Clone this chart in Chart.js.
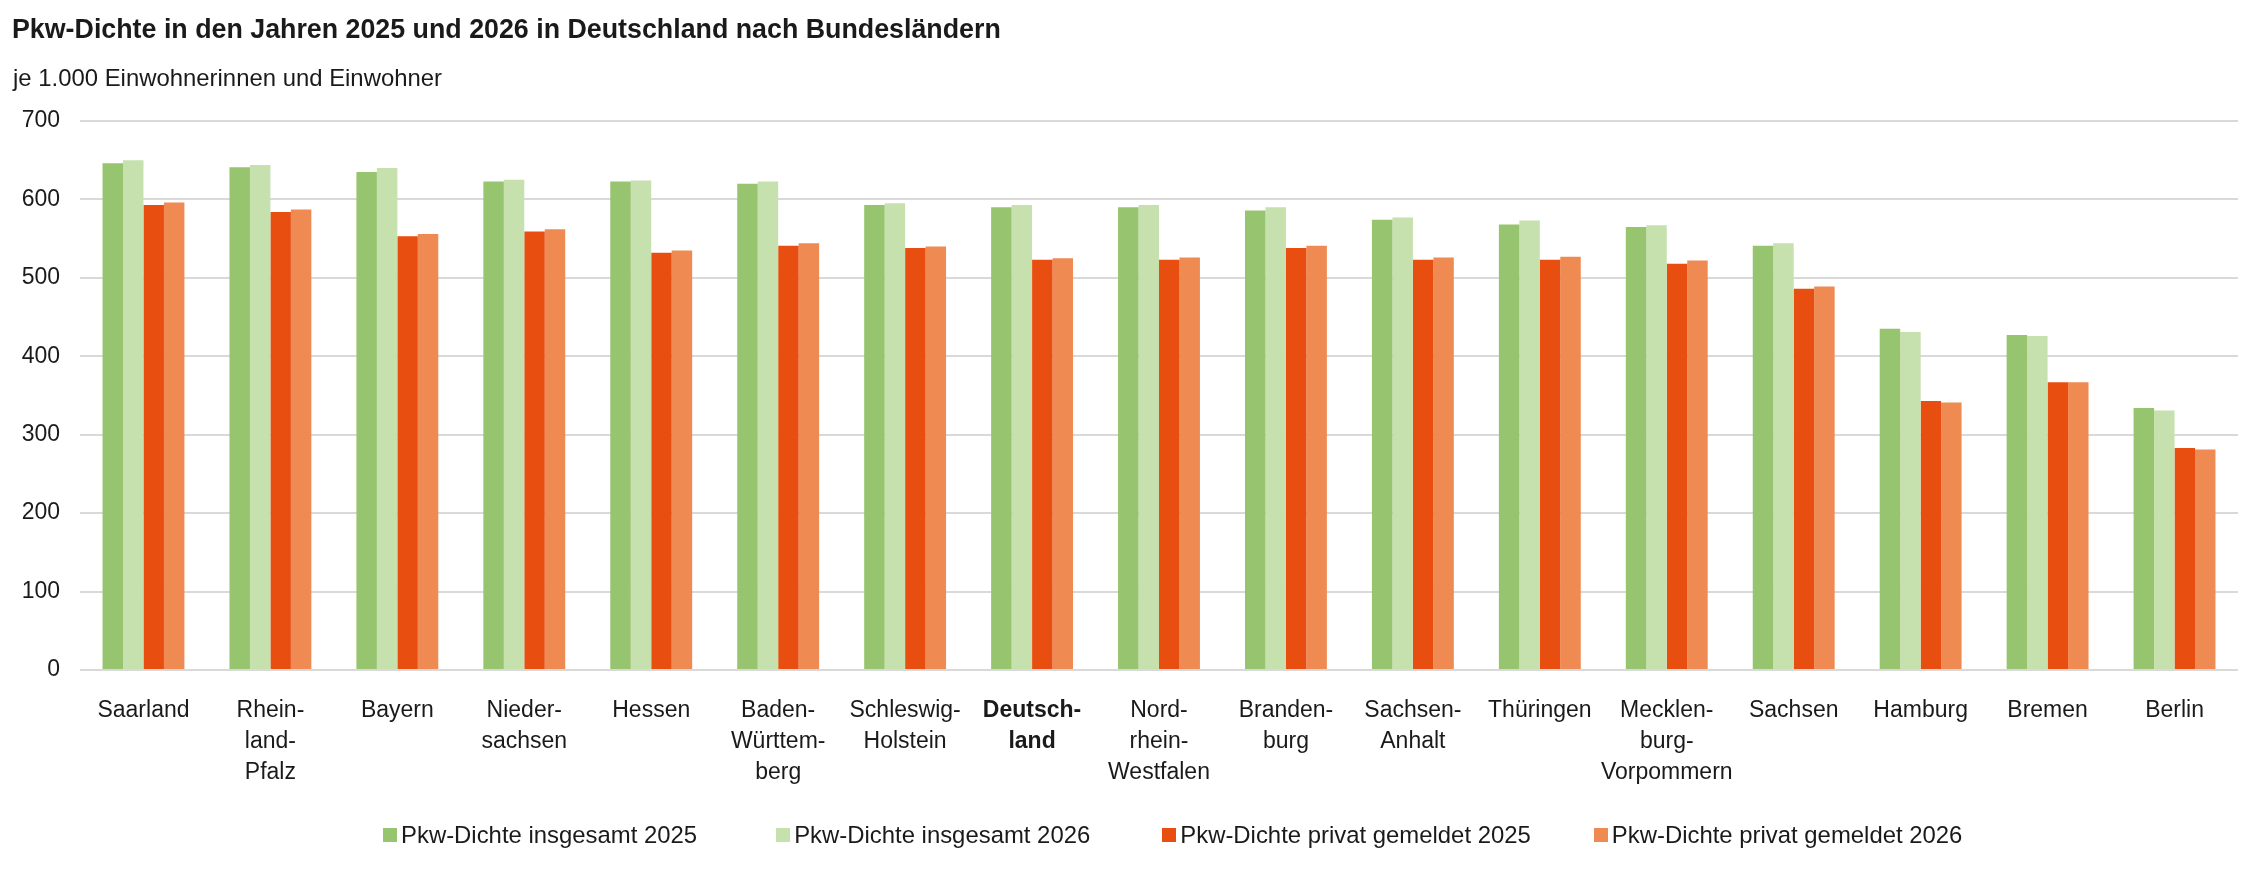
<!DOCTYPE html>
<html lang="de">
<head>
<meta charset="utf-8">
<title>Pkw-Dichte 2025 und 2026</title>
<script src="https://cdn.jsdelivr.net/npm/chart.js@4.4.1/dist/chart.umd.min.js"></script>
<style>
  html, body { margin: 0; padding: 0; background: #fff; }
  body { font-family: "Liberation Sans", Arial, sans-serif; color: #1a1a1a; }
  #wrap { position: relative; width: 2250px; height: 891px; overflow: hidden; }
  #chart { position: absolute; left: 0; top: 0; }
  .title { position: absolute; left: 12px; top: 16px; font-size: 26.8px; font-weight: bold; line-height: 27px; white-space: nowrap; }
  .subtitle { position: absolute; left: 13px; top: 66px; font-size: 23.9px; line-height: 24px; white-space: nowrap; }
  #legend { position: absolute; left: 383px; top: 822px; display: flex; font-size: 23.9px; line-height: 26px; white-space: nowrap; }
  #legend .item { display: flex; align-items: center; }
  #legend .box { width: 14px; height: 14px; margin-right: 4px; }
</style>
</head>
<body>
<div id="wrap">
  <canvas id="chart" width="2250" height="891"></canvas>
  <div class="title">Pkw-Dichte in den Jahren 2025 und 2026 in Deutschland nach Bundesländern</div>
  <div class="subtitle">je 1.000 Einwohnerinnen und Einwohner</div>
  <div id="legend"></div>
</div>
<script>
// Bundesländer (Zeilenumbrüche wie im Original)
const categories = [
  ['Saarland'],
  ['Rhein-', 'land-', 'Pfalz'],
  ['Bayern'],
  ['Nieder-', 'sachsen'],
  ['Hessen'],
  ['Baden-', 'Württem-', 'berg'],
  ['Schleswig-', 'Holstein'],
  ['Deutsch-', 'land'],
  ['Nord-', 'rhein-', 'Westfalen'],
  ['Branden-', 'burg'],
  ['Sachsen-', 'Anhalt'],
  ['Thüringen'],
  ['Mecklen-', 'burg-', 'Vorpommern'],
  ['Sachsen'],
  ['Hamburg'],
  ['Bremen'],
  ['Berlin']
];

const insgesamt2025 = [646, 641, 635, 623, 623, 620, 593, 590, 590, 586, 574, 568, 565, 541, 435, 427, 334];
const insgesamt2026 = [650, 644, 640, 625, 624, 623, 595, 593, 593, 590, 577, 573, 567, 544, 431, 426, 331];
const privat2025    = [593, 584, 553, 559, 532, 541, 538, 523, 523, 538, 523, 523, 518, 486, 343, 367, 283];
const privat2026    = [596, 587, 556, 562, 535, 544, 540, 525, 526, 541, 526, 527, 522, 489, 341, 367, 281];

const yTicks = [0, 100, 200, 300, 400, 500, 600, 700];

const boldIndex = 7; // Deutschland
const font = '"Liberation Sans", Arial, sans-serif';
const textColor = '#1a1a1a';

const datasets = [
  { label: 'Pkw-Dichte insgesamt 2025', data: insgesamt2025, backgroundColor: '#97C46E' },
  { label: 'Pkw-Dichte insgesamt 2026', data: insgesamt2026, backgroundColor: '#C6E0AE' },
  { label: 'Pkw-Dichte privat gemeldet 2025', data: privat2025, backgroundColor: '#E84E10' },
  { label: 'Pkw-Dichte privat gemeldet 2026', data: privat2026, backgroundColor: '#F08A53' }
];

const chart = new Chart(document.getElementById('chart'), {
  type: 'bar',
  data: {
    labels: categories,
    datasets: datasets.map(d => ({
      ...d,
      borderWidth: 0,
      categoryPercentage: 0.645,
      barPercentage: 1.0
    }))
  },
  options: {
    responsive: false,
    animation: false,
    devicePixelRatio: 1,
    layout: { padding: { left: 0, right: 12, top: 121, bottom: 101 } },
    plugins: {
      legend: { display: false },
      tooltip: { enabled: false }
    },
    scales: {
      x: {
        grid: { display: false },
        border: { display: false },
        ticks: {
          color: textColor,
          padding: 17,
          maxRotation: 0,
          autoSkip: false,
          font: (ctx) => ({
            family: font,
            size: 23,
            lineHeight: 1.35,
            weight: ctx.index === boldIndex ? 'bold' : 'normal'
          })
        },
        afterFit: (scale) => { scale.height = 120; }
      },
      y: {
        min: yTicks[0],
        max: yTicks[yTicks.length - 1],
        afterBuildTicks: (scale) => { scale.ticks = yTicks.map(v => ({ value: v })); },
        grid: { color: '#d9d9d9', lineWidth: 2, drawTicks: false },
        border: { display: false },
        ticks: {
          color: textColor,
          padding: 20,
          font: { family: font, size: 23 }
        },
        afterFit: (scale) => { scale.width = 80; }
      }
    }
  }
});

// Legende aus den Datensätzen (Abstände wie im Original)
const legendGaps = [0, 79, 72, 63];
const legend = document.getElementById('legend');
chart.data.datasets.forEach((ds, i) => {
  const item = document.createElement('div');
  item.className = 'item';
  item.style.marginLeft = legendGaps[i] + 'px';
  const box = document.createElement('span');
  box.className = 'box';
  box.style.background = ds.backgroundColor;
  const txt = document.createElement('span');
  txt.textContent = ds.label;
  item.appendChild(box);
  item.appendChild(txt);
  legend.appendChild(item);
});
</script>
</body>
</html>
